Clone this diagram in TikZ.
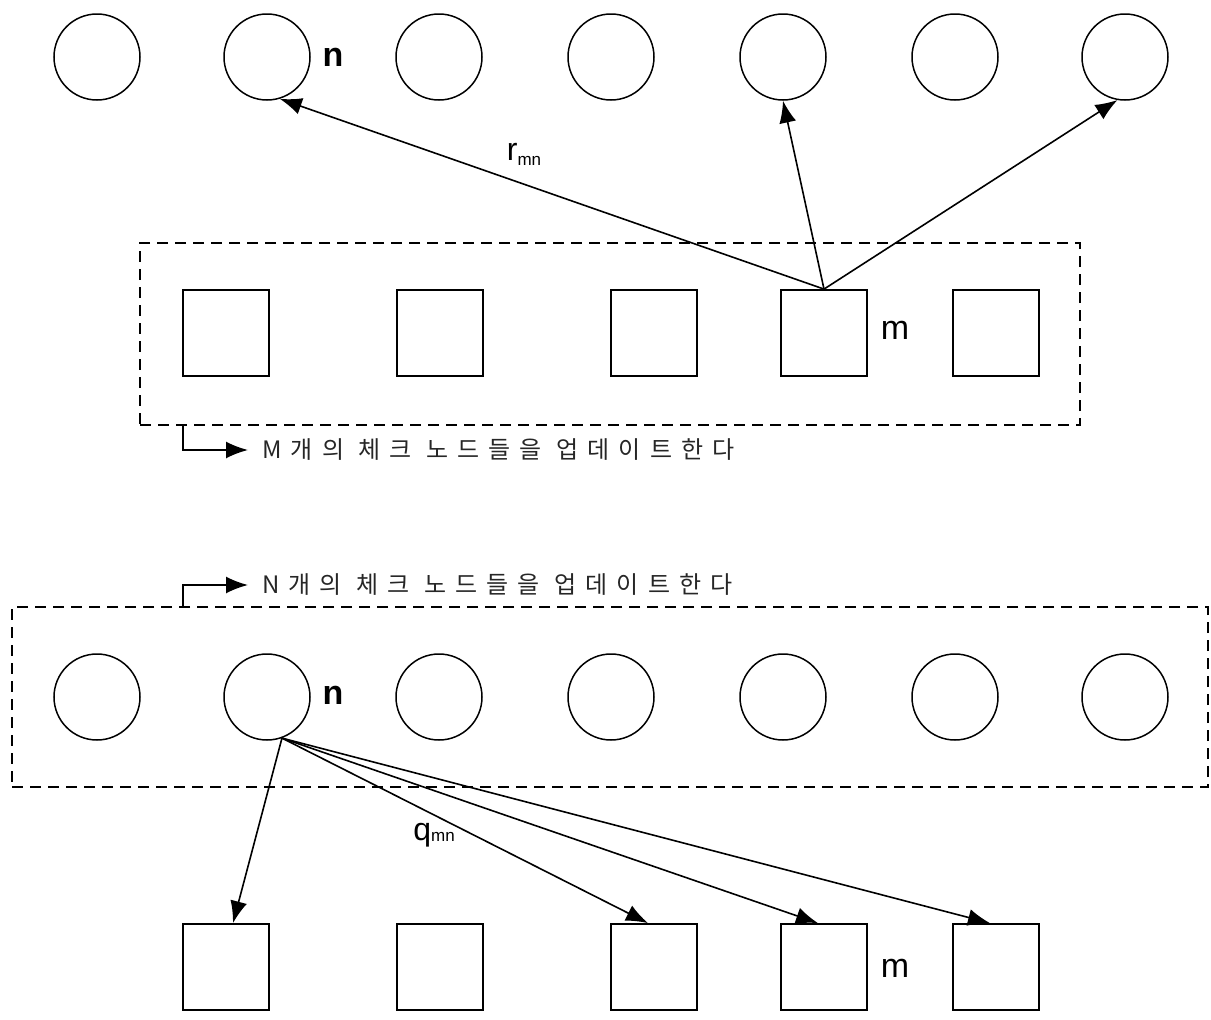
\documentclass[tikz,border=0pt]{standalone}
\usepackage{fontspec}
\setmainfont{Liberation Sans}
\newfontfamily\krfont[LetterSpace=38]{Noto Sans CJK KR}
\usetikzlibrary{arrows.meta}
\begin{document}
\begin{tikzpicture}[x=1pt,y=-1pt,
  vnode/.style={circle,draw,line width=1.5pt,minimum size=86pt,inner sep=0pt},
  cnode/.style={rectangle,draw,line width=1.8pt,minimum size=86pt,inner sep=0pt},
  group/.style={draw,dash pattern=on 11pt off 7pt,line width=1.5pt},
  msg/.style={line width=1.6pt,-{Latex[length=22pt,width=17pt]}},
  elbowarrow/.style={line width=1.8pt,-{Latex[length=22pt,width=17pt]}},
  lbl/.style={font=\fontsize{34}{36}\selectfont,inner sep=0pt},
  sublbl/.style={font=\fontsize{32}{34}\selectfont,inner sep=0pt},
  note/.style={font=\krfont\fontsize{24}{27}\selectfont,anchor=west,inner sep=0pt,text=black!85}
]
\useasboundingbox (0,0) rectangle (1211,1020);

% ---------- top: check node update ----------
\foreach \i/\x in {1/97,2/267,3/439,4/611,5/783,6/955,7/1125}
  \node[vnode] (t\i) at (\x,57) {};
\node[lbl,font=\fontsize{34}{36}\selectfont\bfseries] (tn) at (333,57) {n};

\node[group,minimum width=940pt,minimum height=182pt,inner sep=0pt] (gt) at (610,334) {};
\foreach \i/\x in {1/226,2/440,3/654,4/824,5/996}
  \node[cnode] (s\i) at (\x,333) {};
\node[lbl] (tm) at (895,330) {m};

\draw[msg] (s4.north) -- (t2.-73);
\draw[msg] (s4.north) -- (t5.south);
\draw[msg] (s4.north) -- (t7.-100);
\node[sublbl] (rlab) at (524,154) {r\raisebox{-0.3ex}{\fontsize{17}{17}\selectfont mn}};

\coordinate (ta) at (183,425);
\node[note] (tnote) at (262,450) {M개의 체크 노드들을 업데이트한다};
\draw[elbowarrow] (ta) |- ([xshift=-14pt]tnote.west);

% ---------- bottom: variable node update ----------
\node[note] (bnote) at (262,585) {N개의 체크 노드들을 업데이트한다};
\node[group,minimum width=1196pt,minimum height=180pt,inner sep=0pt] (gb) at (610,697) {};
\coordinate (ba) at (183,607);
\draw[elbowarrow] (ba) |- ([xshift=-14pt]bnote.west);

\foreach \i/\x in {1/97,2/267,3/439,4/611,5/783,6/955,7/1125}
  \node[vnode] (b\i) at (\x,697) {};
\node[lbl,font=\fontsize{34}{36}\selectfont\bfseries] (bn) at (333,695) {n};

\foreach \i/\x in {1/226,2/440,3/654,4/824,5/996}
  \node[cnode] (q\i) at (\x,967) {};
\node[lbl] (bm) at (895,968) {m};

\draw[msg] (b2.-70) -- ([xshift=7pt]q1.north);
\draw[msg] (b2.-70) -- ([xshift=-6pt]q3.north);
\draw[msg] (b2.-70) -- ([xshift=-6pt]q4.north);
\draw[msg] (b2.-70) -- ([xshift=-6pt]q5.north);
\node[sublbl] (qlab) at (434,835) {q\raisebox{-0.05ex}{\fontsize{17}{17}\selectfont mn}};
\end{tikzpicture}
\end{document}
